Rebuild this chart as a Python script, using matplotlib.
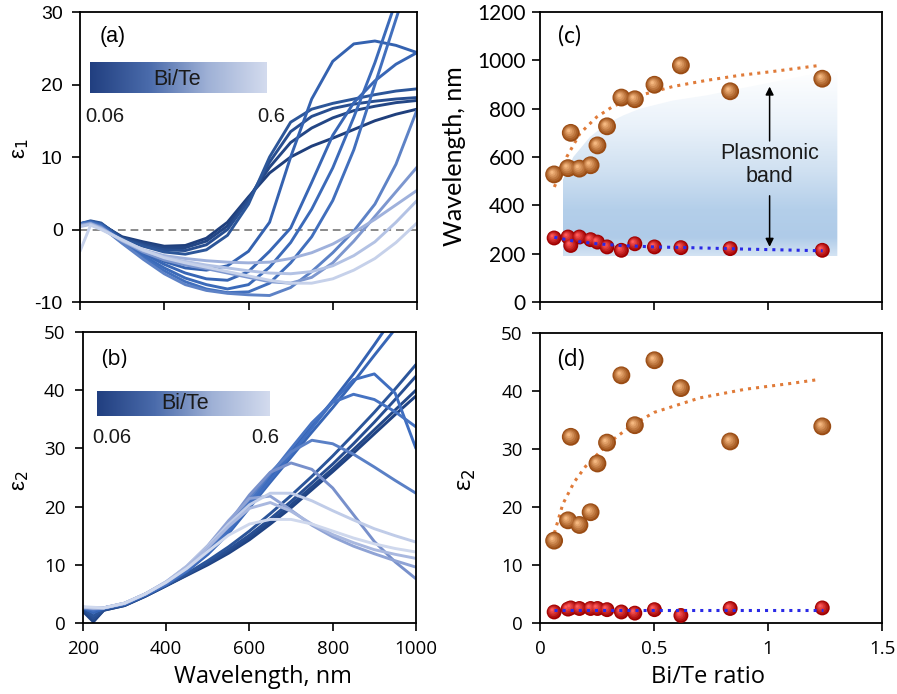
import numpy as np
import matplotlib
matplotlib.use("Agg")
import matplotlib.pyplot as plt
from matplotlib.colors import LinearSegmentedColormap
from matplotlib.patches import Polygon
import matplotlib.transforms as mtransforms

plt.rcParams['axes.unicode_minus'] = False

# ---------------- data: panel (a) eps1 spectra ----------------
wavelength = [200, 225, 250, 300, 350, 400, 450, 500, 550, 600, 650, 700, 750, 800, 850, 900, 950, 1000]

eps1_s01 = [0.5, 1.0, 0.7, -1.0, -1.7, -2.3, -2.2, -1.2, 1.0, 4.5, 7.8, 10.0, 11.5, 12.6, 13.8, 15.0, 15.9, 16.6]
eps1_s02 = [0.6, 1.1, 0.8, -1.1, -1.9, -2.5, -2.5, -1.6, 0.5, 4.3, 8.6, 12.0, 14.0, 15.4, 16.4, 17.0, 17.5, 17.8]
eps1_s03 = [0.7, 1.1, 0.8, -1.2, -2.1, -2.8, -2.9, -2.1, 0.0, 4.0, 9.3, 13.5, 15.6, 16.7, 17.3, 17.7, 18.0, 18.2]
eps1_s04 = [0.8, 1.2, 0.9, -1.3, -2.3, -3.1, -3.4, -2.8, -0.8, 3.5, 10.0, 14.8, 16.6, 17.4, 18.0, 18.6, 19.1, 19.4]
eps1_s05 = [0.8, 1.1, 0.7, -1.5, -3.0, -4.4, -5.3, -5.6, -5.0, -3.0, 1.0, 10.0, 18.0, 23.2, 25.6, 26.0, 25.4, 24.4]
eps1_s06 = [0.8, 1.0, 0.6, -1.6, -3.3, -4.8, -6.0, -6.8, -7.0, -5.8, -3.0, 0.2, 6.5, 13.0, 17.5, 20.5, 22.8, 24.4]
eps1_s07 = [0.8, 1.0, 0.6, -1.7, -3.6, -5.3, -6.7, -7.6, -8.2, -7.6, -5.2, -1.8, 2.8, 8.5, 15.5, 23.0, 31.5, 40.0]
eps1_s08 = [0.8, 1.0, 0.5, -1.8, -3.9, -5.7, -7.2, -8.2, -8.7, -8.6, -7.4, -4.6, -1.0, 4.0, 11.0, 20.0, 29.0, 38.0]
eps1_s09 = [0.7, 0.9, 0.4, -1.9, -4.1, -6.1, -7.6, -8.4, -8.8, -9.0, -9.1, -8.0, -5.8, -3.2, -0.2, 3.5, 9.0, 16.5]
eps1_s10 = [0.6, 0.8, 0.3, -1.6, -3.1, -4.2, -4.9, -5.4, -6.0, -6.6, -7.2, -7.4, -6.6, -4.6, -1.6, 1.8, 5.2, 8.6]
eps1_s11 = [0.5, 0.8, 0.2, -1.5, -2.8, -3.6, -4.0, -4.3, -4.5, -4.6, -4.5, -4.0, -3.2, -2.0, -0.4, 1.4, 3.4, 5.4]
eps1_s12 = [0.4, 0.7, 0.1, -1.5, -2.9, -3.8, -4.4, -4.9, -5.3, -5.7, -6.0, -6.1, -5.8, -5.0, -3.6, -1.7, 1.0, 4.0]
eps1_s13 = [-3.0, 0.6, 0.0, -1.4, -2.8, -3.9, -4.6, -5.2, -5.8, -6.4, -7.0, -7.4, -7.4, -6.8, -5.6, -4.0, -1.8, 0.9]

# ---------------- data: panel (b) eps2 spectra ----------------
eps2_s01 = [2.0, 0.2, 2.2, 3.0, 4.6, 6.4, 8.2, 10.0, 12.0, 14.3, 17.0, 19.8, 22.9, 26.0, 29.2, 32.5, 35.8, 39.0]
eps2_s02 = [2.2, 0.5, 2.2, 3.0, 4.6, 6.4, 8.3, 10.2, 12.3, 14.7, 17.4, 20.3, 23.4, 26.5, 29.8, 33.2, 36.6, 40.0]
eps2_s03 = [2.4, 0.8, 2.3, 3.1, 4.7, 6.5, 8.4, 10.4, 12.6, 15.1, 17.9, 20.9, 24.1, 27.3, 30.8, 34.5, 38.4, 42.4]
eps2_s04 = [2.5, 1.2, 2.4, 3.1, 4.7, 6.5, 8.5, 10.7, 13.1, 15.8, 18.8, 21.9, 25.2, 28.7, 32.4, 36.2, 40.2, 44.4]
eps2_s05 = [2.6, 1.8, 2.5, 3.2, 4.8, 6.6, 9.0, 12.0, 15.8, 20.5, 25.0, 29.5, 33.8, 38.2, 42.8, 47.8, 53.0, 58.0]
eps2_s06 = [2.6, 1.8, 2.5, 3.2, 4.8, 6.6, 8.9, 11.8, 15.4, 19.8, 24.2, 28.5, 32.8, 37.0, 41.4, 46.0, 50.5, 55.0]
eps2_s07 = [2.6, 2.2, 2.6, 3.3, 4.9, 6.7, 9.0, 12.0, 15.8, 20.2, 24.6, 29.0, 33.5, 38.0, 41.8, 42.8, 39.5, 30.0]
eps2_s08 = [2.6, 2.2, 2.6, 3.3, 4.9, 6.7, 9.1, 12.2, 16.2, 20.8, 25.5, 30.0, 34.4, 37.9, 39.3, 38.4, 36.3, 33.7]
eps2_s09 = [2.6, 2.4, 2.6, 3.3, 5.0, 6.9, 9.4, 12.6, 16.8, 21.5, 25.8, 29.4, 31.4, 30.8, 29.0, 26.8, 24.5, 22.3]
eps2_s10 = [2.6, 2.5, 2.6, 3.4, 5.0, 7.0, 9.6, 13.0, 17.2, 22.0, 25.9, 27.5, 26.4, 23.2, 18.6, 14.0, 10.5, 7.6]
eps2_s11 = [2.7, 2.6, 2.6, 3.4, 5.0, 7.0, 9.8, 13.3, 17.6, 21.4, 21.8, 19.4, 16.8, 14.8, 13.2, 11.9, 10.7, 9.6]
eps2_s12 = [2.7, 2.6, 2.6, 3.4, 5.0, 7.1, 9.8, 13.2, 17.0, 20.3, 22.3, 22.3, 21.0, 19.3, 17.7, 16.2, 15.0, 13.9]
eps2_s13 = [2.7, 2.6, 2.6, 3.4, 5.0, 7.1, 9.7, 13.0, 16.6, 19.7, 20.7, 19.2, 17.0, 15.2, 13.8, 12.6, 11.8, 11.1]
eps2_s14 = [2.8, 2.7, 2.6, 3.4, 5.0, 7.0, 9.4, 12.3, 15.1, 17.0, 17.8, 17.8, 17.0, 15.8, 14.6, 13.6, 12.8, 12.2]

# ---------------- data: panels (c), (d) ----------------
bite_ratio = [0.062, 0.123, 0.135, 0.173, 0.222, 0.252, 0.294, 0.357, 0.416, 0.502, 0.618, 0.834, 1.238]
wl_upper   = [528, 554, 700, 552, 566, 648, 727, 846, 839, 899, 979, 872, 924]
wl_lower   = [265, 269, 234, 269, 258, 248, 228, 214, 241, 228, 225, 221, 214]
eps2_upper = [14.2, 17.7, 32.1, 16.9, 19.1, 27.5, 31.1, 42.7, 34.1, 45.3, 40.5, 31.3, 33.9]
eps2_lower = [1.9, 2.4, 2.6, 2.5, 2.5, 2.5, 2.3, 1.9, 1.7, 2.3, 1.3, 2.5, 2.6]

trend_c_up_x = [0.063, 0.117, 0.175, 0.248, 0.321, 0.438, 0.584, 0.73, 0.876, 1.022, 1.226]
trend_c_up_y = [476, 600, 697, 765, 810, 855, 892, 917, 938, 954, 979]
trend_c_lo_x = [0.063, 0.15, 0.25, 0.35, 0.5, 0.7, 0.9, 1.1, 1.24]
trend_c_lo_y = [268, 252, 241, 234, 228, 224, 219, 215, 212]
trend_d_up_x = [0.063, 0.1, 0.15, 0.2, 0.3, 0.4, 0.5, 0.7, 0.9, 1.1, 1.226]
trend_d_up_y = [15.5, 20.5, 24.3, 27.0, 31.0, 34.0, 36.3, 38.8, 40.3, 41.3, 42.0]
trend_d_lo_x = [0.063, 1.24]
trend_d_lo_y = [2.3, 2.3]

band_top_x = [0.099, 0.146, 0.219, 0.292, 0.365, 0.438, 0.584, 0.73, 0.876, 1.022, 1.168, 1.304]
band_top_y = [503, 600, 683, 738, 772, 800, 834, 855, 883, 910, 938, 952]
band_bottom = 189

# ---------------- styles ----------------
eps1_curves = [eps1_s01, eps1_s02, eps1_s03, eps1_s04, eps1_s05, eps1_s06, eps1_s07,
               eps1_s08, eps1_s09, eps1_s10, eps1_s11, eps1_s12, eps1_s13]
eps1_colors = ['#1f3f7c', '#234685', '#284e90', '#2c5699', '#3462b0', '#3866b5', '#3b6ab9',
               '#416fbd', '#5d82c6', '#7d97cf', '#9fb1dc', '#b3c2e4', '#c6d1ea']
eps2_curves = [eps2_s01, eps2_s02, eps2_s03, eps2_s04, eps2_s05, eps2_s06, eps2_s07,
               eps2_s08, eps2_s09, eps2_s10, eps2_s11, eps2_s12, eps2_s13, eps2_s14]
eps2_colors = ['#1f4283', '#234889', '#274e92', '#2b559a', '#3462b2', '#3766b6', '#3f6ec0',
               '#4673c2', '#5a80c6', '#7890cb', '#8fa3d5', '#c0cce8', '#a9b8df', '#cfd8ed']

SANS_A = 'Liberation Sans'
SANS_B = 'Open Sans'
SANS_C = 'Lato'

fig = plt.figure(figsize=(8.97, 6.94), dpi=100)
axA = fig.add_axes([0.0892, 0.5648, 0.3757, 0.4179])
axB = fig.add_axes([0.0925, 0.1023, 0.3712, 0.4193])
axC = fig.add_axes([0.602, 0.5648, 0.3813, 0.4179])
axD = fig.add_axes([0.602, 0.1023, 0.3813, 0.4179])

for ax in (axA, axB, axC, axD):
    for sp in ax.spines.values():
        sp.set_linewidth(1.3)
        sp.set_color('black')
    ax.tick_params(direction='out', length=5.5, width=1.2, pad=7, top=False, right=False)

bar_cmap = LinearSegmentedColormap.from_list('bite', ['#213f80', '#4a6bab', '#9fb1d6', '#d3dbee'])

def bite_bar(ax, rect, txt_xy, lab_left, lab_right, family):
    iax = ax.inset_axes(rect)
    iax.imshow(np.linspace(0, 1, 256)[None, :], aspect='auto', cmap=bar_cmap,
               extent=[0, 1, 0, 1])
    iax.set_axis_off()
    ax.text(txt_xy[0], txt_xy[1], 'Bi/Te', transform=ax.transAxes, ha='center', va='center',
            fontsize=15.5, family=family, color='#1a1a1a', zorder=10)
    ax.text(lab_left[0], lab_left[1], '0.06', transform=ax.transAxes, ha='left', va='center',
            fontsize=14.5, family=family, color='#1a1a1a')
    ax.text(lab_right[0], lab_right[1], '0.6', transform=ax.transAxes, ha='center', va='center',
            fontsize=14.5, family=family, color='#1a1a1a')

# ---------------- (a) ----------------
axA.axhline(0, color='#8a8a8a', lw=1.4, ls=(0, (4, 2.5)), zorder=1)
for vals, col in zip(eps1_curves, eps1_colors):
    axA.plot(wavelength, vals, color=col, lw=2.1, solid_capstyle='round',
             solid_joinstyle='round', zorder=2)
axA.set_xlim(200, 1000)
axA.set_ylim(-10, 30)
axA.set_xticks([200, 400, 600, 800, 1000])
axA.set_xticklabels([])
axA.set_yticks([-10, 0, 10, 20, 30])
for t in axA.get_yticklabels():
    t.set_family(SANS_A); t.set_fontsize(14)
axA.set_ylabel('ε$_1$', fontsize=16, family=SANS_A)
axA.yaxis.set_label_coords(-0.145, 0.53)
axA.text(0.098, 0.917, '(a)', transform=axA.transAxes, ha='center', va='center',
         fontsize=15.5, family=SANS_A)
bite_bar(axA, [0.030, 0.721, 0.525, 0.107], (0.288, 0.766), (0.015, 0.638), (0.567, 0.638), SANS_A)

# ---------------- (b) ----------------
for vals, col in zip(eps2_curves, eps2_colors):
    axB.plot(wavelength, vals, color=col, lw=2.1, solid_capstyle='round',
             solid_joinstyle='round', zorder=2)
axB.set_xlim(200, 1000)
axB.set_ylim(0, 50)
axB.set_xticks([200, 400, 600, 800, 1000])
axB.set_yticks([0, 10, 20, 30, 40, 50])
for t in axB.get_xticklabels() + axB.get_yticklabels():
    t.set_family(SANS_B); t.set_fontsize(13.5)
axB.set_xlabel('Wavelength, nm', fontsize=17, family=SANS_B)
axB.xaxis.set_label_coords(0.54, -0.145)
axB.set_ylabel('ε$_2$', fontsize=16, family=SANS_A)
axB.yaxis.set_label_coords(-0.155, 0.49)
axB.text(0.093, 0.904, '(b)', transform=axB.transAxes, ha='center', va='center',
         fontsize=15.5, family=SANS_B)
bite_bar(axB, [0.042, 0.711, 0.517, 0.086], (0.306, 0.753), (0.027, 0.639), (0.547, 0.639), SANS_A)

# ---------------- sphere markers ----------------
def spheres(ax, x, y, size, base, light, z):
    steps = 6
    c0 = np.array(matplotlib.colors.to_rgb(base))
    c1 = np.array(matplotlib.colors.to_rgb(light))
    for i in range(steps):
        f = i / (steps - 1)
        s = size * (1 - 0.82 * f) ** 2
        off = mtransforms.offset_copy(ax.transData, fig=fig, x=-1.5 * f, y=1.5 * f, units='points')
        ax.scatter(x, y, s=s, color=c0 * (1 - f) + c1 * f, edgecolors='none',
                   transform=off, zorder=z + i * 0.01)

# ---------------- (c) ----------------
band_poly = list(zip(band_top_x, band_top_y)) + [(band_top_x[-1], band_bottom), (band_top_x[0], band_bottom)]
band_cmap = LinearSegmentedColormap.from_list(
    'band', [(0.0, '#d3e3f3'), (0.1, '#afcbe8'), (0.25, '#b4cfea'), (0.45, '#cfe0f1'),
             (0.7, '#eaf2fa'), (1.0, '#ffffff')])
grad = np.linspace(0, 1, 256)[:, None]
im = axC.imshow(grad, extent=[band_top_x[0], band_top_x[-1], band_bottom, 960], origin='lower',
                aspect='auto', cmap=band_cmap, zorder=0)
patch = Polygon(band_poly, closed=True, transform=axC.transData, facecolor='none', edgecolor='none')
axC.add_patch(patch)
im.set_clip_path(patch)

axC.plot(trend_c_up_x, trend_c_up_y, ls=':', color='#e07b39', lw=2.2, zorder=3)
spheres(axC, bite_ratio, wl_upper, 165, '#9a4c14', '#f5b880', 4)
spheres(axC, bite_ratio, wl_lower, 115, '#a00000', '#ff5a5a', 4)
axC.plot(trend_c_lo_x, trend_c_lo_y, ls=':', color='#2a2ae6', lw=2.2, zorder=5)

axC.annotate('', xy=(1.007, 903), xytext=(1.007, 655),
             arrowprops=dict(arrowstyle='-|>', color='black', lw=1.1, mutation_scale=12), zorder=6)
axC.annotate('', xy=(1.007, 217), xytext=(1.007, 451),
             arrowprops=dict(arrowstyle='-|>', color='black', lw=1.1, mutation_scale=12), zorder=6)
axC.text(1.007, 567, 'Plasmonic\nband', ha='center', va='center', fontsize=15.5,
         family=SANS_A, linespacing=1.15, zorder=7, color='#1a1a1a')

axC.set_xlim(0, 1.5)
axC.set_ylim(0, 1200)
axC.set_xticks([0, 0.5, 1, 1.5])
axC.set_xticklabels([])
axC.set_yticks([0, 200, 400, 600, 800, 1000, 1200])
for t in axC.get_yticklabels():
    t.set_family(SANS_C); t.set_fontsize(15)
axC.tick_params(axis='y', pad=5)
axC.set_ylabel('Wavelength, nm', fontsize=18, family=SANS_C)
axC.yaxis.set_label_coords(-0.215, 0.503)
axC.text(0.085, 0.917, '(c)', transform=axC.transAxes, ha='center', va='center',
         fontsize=16.5, family=SANS_C)

# ---------------- (d) ----------------
axD.plot(trend_d_up_x, trend_d_up_y, ls=':', color='#e07b39', lw=2.2, zorder=3)
spheres(axD, bite_ratio, eps2_upper, 165, '#9a4c14', '#f5b880', 4)
spheres(axD, bite_ratio, eps2_lower, 115, '#a00000', '#ff5a5a', 4)
axD.plot(trend_d_lo_x, trend_d_lo_y, ls=':', color='#2a2ae6', lw=2.2, zorder=5)
axD.set_xlim(0, 1.5)
axD.set_ylim(0, 50)
axD.set_xticks([0, 0.5, 1, 1.5])
axD.set_xticklabels(['0', '0.5', '1', '1.5'])
axD.set_yticks([0, 10, 20, 30, 40, 50])
for t in axD.get_xticklabels() + axD.get_yticklabels():
    t.set_family(SANS_B); t.set_fontsize(13.5)
axD.set_xlabel('Bi/Te ratio', fontsize=17, family=SANS_B)
axD.xaxis.set_label_coords(0.491, -0.145)
axD.set_ylabel('ε$_2$', fontsize=17, family=SANS_B)
axD.yaxis.set_label_coords(-0.18, 0.493)
axD.text(0.091, 0.907, '(d)', transform=axD.transAxes, ha='center', va='center',
         fontsize=16.5, family=SANS_B)

fig.savefig('out.png', dpi=100)
